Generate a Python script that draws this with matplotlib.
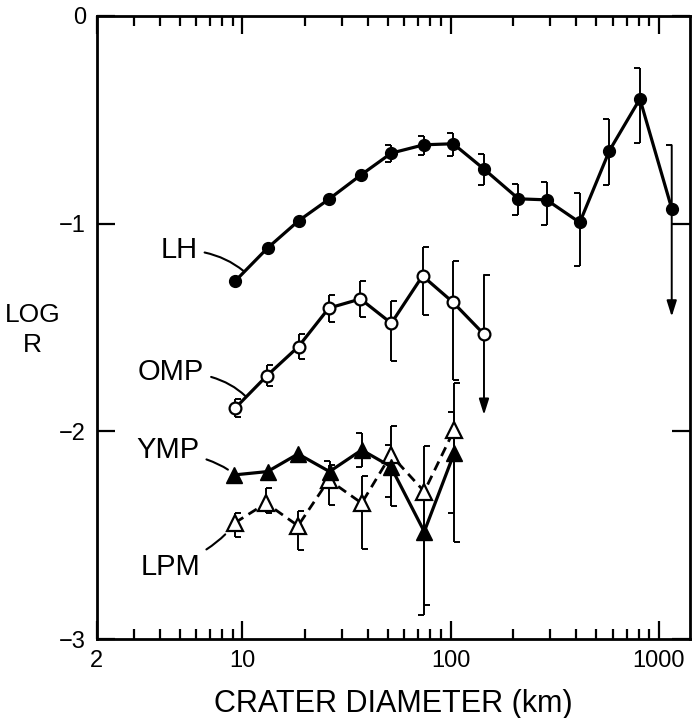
import numpy as np
import matplotlib
matplotlib.use('Agg')
import matplotlib.pyplot as plt

plt.rcParams['font.family'] = ['Liberation Sans', 'DejaVu Sans']

nan = np.nan

# LH - filled circles
lh_d = [9.25, 13.2, 18.6, 26.0, 37.1, 51.9, 74.3, 102.9, 144.3, 211.8, 289, 417, 579, 811, 1153]
lh_r = [-1.276, -1.118, -0.987, -0.883, -0.766, -0.661, -0.621, -0.616, -0.737,
        -0.881, -0.886, -0.995, -0.649, -0.400, -0.928]
lh_hi = [nan, nan, nan, nan, nan, -0.624, -0.581, -0.562, -0.664,
         -0.810, -0.798, -0.854, -0.497, -0.252, -0.623]
lh_lo = [nan, nan, nan, nan, nan, -0.704, -0.669, -0.677, -0.814,
         -0.958, -1.008, -1.202, -0.815, -0.610, nan]
lh_limit = -1.448  # upper-limit arrow on last bin

# OMP - open circles
omp_d = [9.22, 13.1, 18.6, 26.0, 36.9, 51.9, 73.3, 102.9, 144.6]
omp_r = [-1.889, -1.733, -1.592, -1.407, -1.363, -1.480, -1.252, -1.380, -1.533]
omp_hi = [-1.845, -1.680, -1.532, -1.343, -1.279, -1.371, -1.114, -1.180, -1.247]
omp_lo = [-1.932, -1.781, -1.653, -1.475, -1.448, -1.664, -1.440, -1.753, nan]
omp_limit = -1.921

# YMP - filled triangles
ymp_d = [9.15, 13.2, 18.5, 26.2, 37.4, 51.6, 74.7, 104.0]
ymp_r = [-2.210, -2.194, -2.109, -2.194, -2.090, -2.170, -2.483, -2.105]
ymp_hi = [nan, nan, nan, -2.143, -2.006, -2.065, -2.314, -1.905]
ymp_lo = [nan, nan, nan, -2.244, -2.170, -2.314, -2.884, -2.391]

# LPM - open triangles, dashed
lpm_d = [9.22, 13.0, 18.5, 26.0, 37.4, 51.6, 74.7, 104.0]
lpm_r = [-2.440, -2.346, -2.455, -2.234, -2.346, -2.114, -2.290, -1.993]
lpm_hi = [-2.394, -2.274, -2.383, -2.162, -2.215, -1.974, -2.070, -1.766]
lpm_lo = [-2.507, -2.394, -2.571, -2.354, -2.568, -2.358, -2.836, -2.531]

x_ticks = [2, 10, 100, 1000]
x_ticklabels = ['2', '10', '100', '1000']
y_ticks = [0, -1, -2, -3]

cap_left = [(0, 0), (-1, 0)]
cap_right = [(0, 0), (1, 0)]

fig = plt.figure(figsize=(6.92, 7.18), dpi=100)
ax = fig.add_axes([0.140, 0.110, 0.857, 0.868])


def bars(d, hi, lo, cap):
    ax.vlines(d, lo, hi, color='k', lw=1.4, zorder=2)
    for v in (hi, lo):
        ax.plot(d, v, ls='none', marker=cap, ms=9, mec='k', mew=1.4,
                mfc='none', zorder=2)


def limit_arrow(d, top, end):
    ax.annotate('', xy=(d, end), xytext=(d, top),
                arrowprops=dict(arrowstyle='-|>,head_length=0.95,head_width=0.3',
                                mutation_scale=10, lw=1.4, color='k',
                                shrinkA=0, shrinkB=0), zorder=2)


def along(d, r, f):
    # point a fraction f along the first segment of a curve (log x)
    x = 10 ** (np.log10(d[0]) + f * (np.log10(d[1]) - np.log10(d[0])))
    return x, r[0] + f * (r[1] - r[0])


bars(lh_d, lh_hi, lh_lo, cap_left)
bars(omp_d, omp_hi, omp_lo, cap_right)
bars(ymp_d, ymp_hi, ymp_lo, cap_left)
bars(lpm_d, lpm_hi, lpm_lo, cap_right)
limit_arrow(lh_d[-1], lh_hi[-1], lh_limit)
limit_arrow(omp_d[-1], omp_hi[-1], omp_limit)

ax.plot(lh_d, lh_r, '-', color='k', lw=2.3, marker='o', ms=8.5,
        mfc='k', mec='k', zorder=4)
ax.plot(omp_d, omp_r, '-', color='k', lw=2.3, marker='o', ms=8.5,
        mfc='white', mec='k', mew=1.6, zorder=4)
ax.plot(lpm_d, lpm_r, color='k', lw=2.0, ls=(0, (3.5, 2.2)), marker='^', ms=11,
        mfc='white', mec='k', mew=1.6, zorder=3)
ax.plot(ymp_d, ymp_r, '-', color='k', lw=2.3, marker='^', ms=11,
        mfc='k', mec='k', zorder=4)

# curve labels with leader lines
lab_kw = dict(ha='center', va='center', fontsize=21)
lead = dict(arrowstyle='-', lw=1.5, color='k', shrinkA=3)
ax.annotate('LH', xy=along(lh_d, lh_r, 0.28), xytext=(4.97, -1.127),
            arrowprops=dict(connectionstyle='angle3,angleA=0,angleB=-40',
                            shrinkB=1, **lead), **lab_kw)
ax.annotate('OMP', xy=along(omp_d, omp_r, 0.35), xytext=(4.55, -1.714),
            arrowprops=dict(connectionstyle='angle3,angleA=0,angleB=-45',
                            shrinkB=1, **lead), **lab_kw)
ax.annotate('YMP', xy=(ymp_d[0], ymp_r[0]), xytext=(4.40, -2.090),
            arrowprops=dict(connectionstyle='angle3,angleA=-10,angleB=-45',
                            shrinkB=6, **lead), **lab_kw)
ax.annotate('LPM', xy=(lpm_d[0], lpm_r[0]), xytext=(4.50, -2.653),
            arrowprops=dict(connectionstyle='angle3,angleA=20,angleB=55',
                            shrinkB=11, **lead), **lab_kw)

ax.set_xscale('log')
ax.set_xlim(2, 1410)
ax.set_ylim(-3, 0)
ax.set_xticks(x_ticks)
ax.set_xticklabels(x_ticklabels)
ax.xaxis.set_minor_locator(matplotlib.ticker.LogLocator(base=10, subs=np.arange(2, 10)))
ax.xaxis.set_minor_formatter(matplotlib.ticker.NullFormatter())
ax.set_yticks(y_ticks)

ax.tick_params(which='both', direction='in', top=True, right=True, width=1.6,
               labelsize=17)
ax.tick_params(which='major', length=13)
ax.tick_params(which='minor', length=7)
ax.tick_params(axis='x', pad=8)
ax.tick_params(axis='y', pad=8)
for s in ax.spines.values():
    s.set_linewidth(2)

ax.set_xlabel('CRATER DIAMETER (km)', fontsize=22, labelpad=12)
ax.set_ylabel('LOG\nR', fontsize=19, rotation=0, ha='center', va='center',
              linespacing=1.3)
ax.yaxis.set_label_coords(-0.108, 0.496)

fig.savefig('out.png', dpi=100)
